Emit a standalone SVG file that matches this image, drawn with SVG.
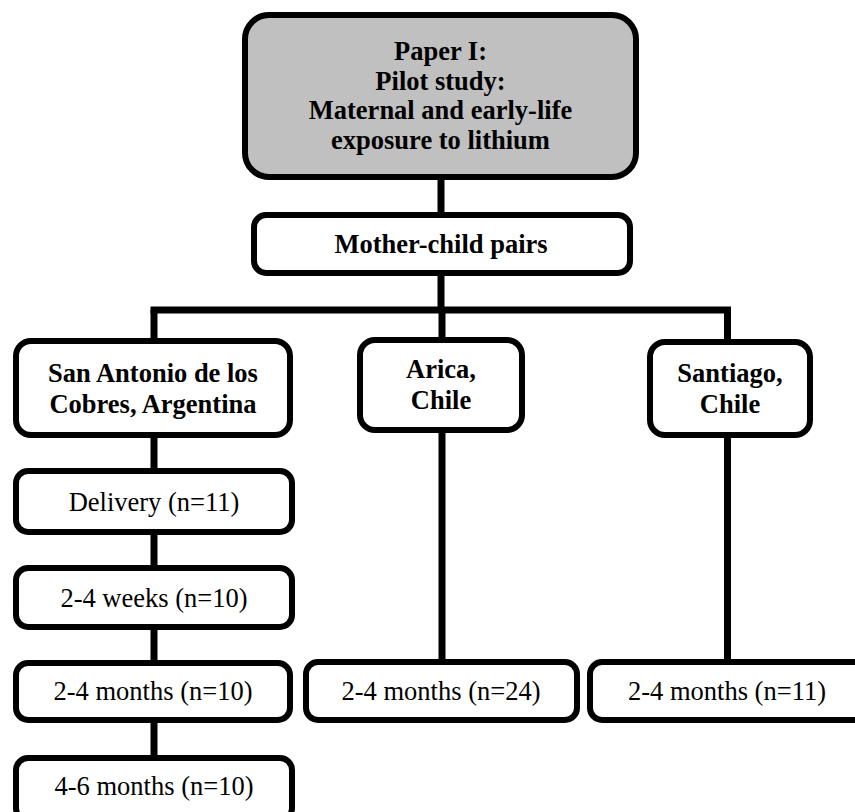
<svg xmlns="http://www.w3.org/2000/svg" width="855" height="812" viewBox="0 0 855 812">
  <style>
    .box { fill: #ffffff; stroke: #000000; stroke-width: 6; }
    .head { fill: #c0c0c0; stroke: #000000; stroke-width: 6; }
    .link { stroke: #000000; stroke-width: 7; fill: none; }
    text { font-family: "Liberation Serif", "Times New Roman", serif; font-size: 26.5px; fill: #000000; text-anchor: middle; }
    .b { font-weight: bold; }
  </style>
  <rect x="0" y="0" width="855" height="812" fill="#ffffff"/>

  <!-- connectors -->
  <g id="connectors">
    <line class="link" x1="441" y1="177" x2="441" y2="215"/>
    <line class="link" x1="441" y1="273" x2="441" y2="310"/>
    <line class="link" x1="154" y1="310" x2="727.5" y2="310" stroke-linecap="square"/>
    <line class="link" x1="154" y1="310" x2="154" y2="341"/>
    <line class="link" x1="442" y1="310" x2="442" y2="340"/>
    <line class="link" x1="727.5" y1="310" x2="727.5" y2="342"/>
    <line class="link" x1="154" y1="435" x2="154" y2="471"/>
    <line class="link" x1="154" y1="532" x2="154" y2="568"/>
    <line class="link" x1="154" y1="627" x2="154" y2="663"/>
    <line class="link" x1="154" y1="720" x2="154" y2="758"/>
    <line class="link" x1="442" y1="430" x2="442" y2="662"/>
    <line class="link" x1="727.5" y1="435" x2="727.5" y2="662"/>
  </g>

  <g id="paper1">
    <rect class="head" x="245" y="15" width="391" height="162" rx="24"/>
    <text class="b" x="440.5" y="60">Paper I:</text>
    <text class="b" x="440.5" y="89.5">Pilot study:</text>
    <text class="b" x="440.5" y="119">Maternal and early-life</text>
    <text class="b" x="440.5" y="148.5">exposure to lithium</text>
  </g>

  <g id="pairs">
    <rect class="box" x="254" y="215" width="376" height="58" rx="12"/>
    <text class="b" x="441" y="253">Mother-child pairs</text>
  </g>

  <g id="san-antonio">
    <rect class="box" x="16" y="341" width="274" height="94" rx="15"/>
    <text class="b" x="153" y="381.5">San Antonio de los</text>
    <text class="b" x="153" y="412.5">Cobres, Argentina</text>
  </g>

  <g id="arica">
    <rect class="box" x="360" y="340" width="162" height="90" rx="15"/>
    <text class="b" x="441" y="378">Arica,</text>
    <text class="b" x="441" y="409">Chile</text>
  </g>

  <g id="santiago">
    <rect class="box" x="650" y="342" width="160" height="93" rx="15"/>
    <text class="b" x="730" y="381.5">Santiago,</text>
    <text class="b" x="730" y="412.5">Chile</text>
  </g>

  <g id="delivery">
    <rect class="box" x="16" y="471" width="276" height="61" rx="12"/>
    <text x="154" y="511">Delivery (n=11)</text>
  </g>

  <g id="weeks-2-4">
    <rect class="box" x="16" y="568" width="276" height="59" rx="12"/>
    <text x="154" y="607">2-4 weeks (n=10)</text>
  </g>

  <g id="months-2-4-sa">
    <rect class="box" x="16" y="663" width="274" height="57" rx="12"/>
    <text x="153" y="700">2-4 months (n=10)</text>
  </g>

  <g id="months-4-6-sa">
    <rect class="box" x="16" y="758" width="276" height="62" rx="12"/>
    <text x="154" y="795">4-6 months (n=10)</text>
  </g>

  <g id="months-2-4-arica">
    <rect class="box" x="306" y="662" width="271" height="58" rx="12"/>
    <text x="441" y="700">2-4 months (n=24)</text>
  </g>

  <g id="months-2-4-santiago">
    <rect class="box" x="590" y="662" width="290" height="58" rx="12"/>
    <text x="727" y="700">2-4 months (n=11)</text>
  </g>
</svg>
